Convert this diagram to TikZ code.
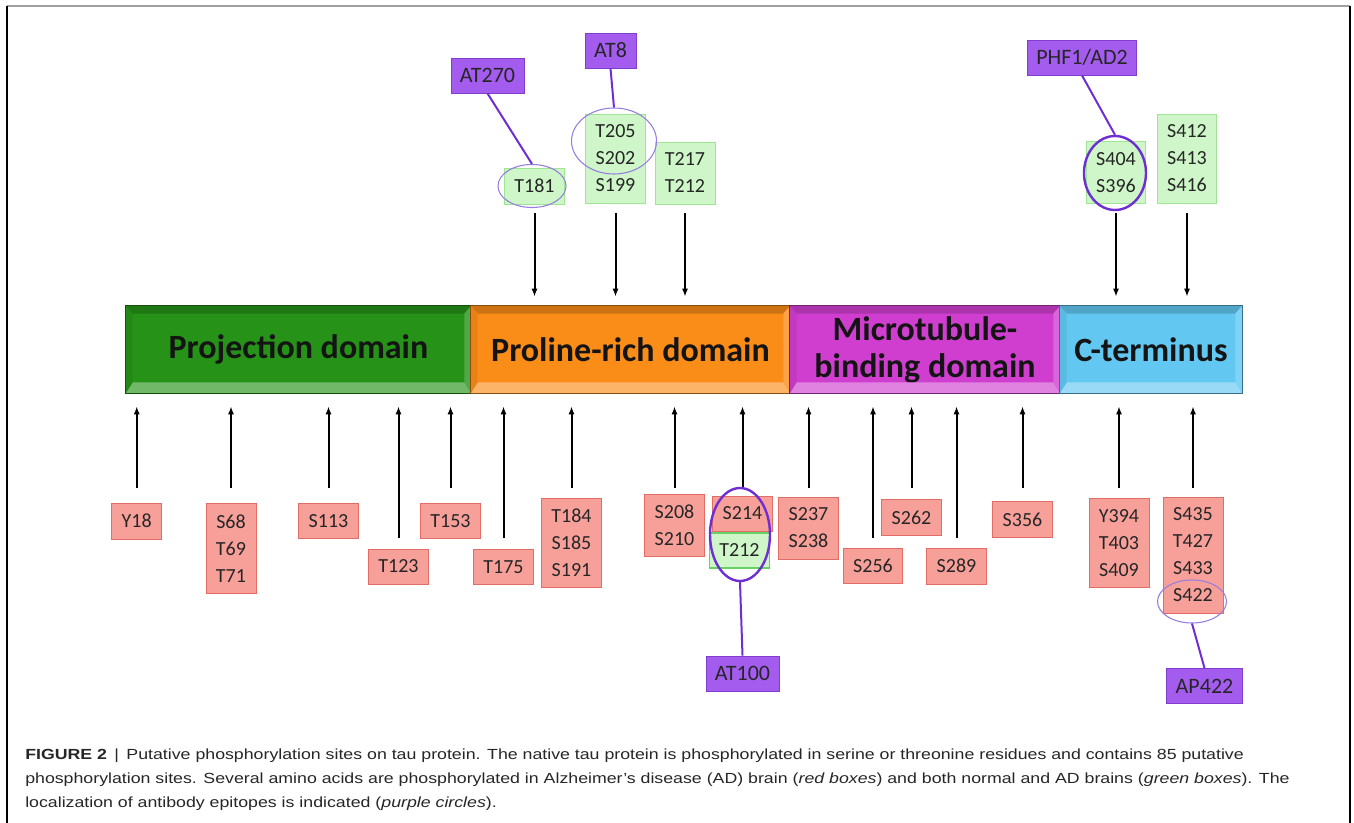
\documentclass[tikz,border=0pt]{standalone}
\usepackage{fontspec}
\setmainfont{Carlito}
\newfontfamily\capfont[FakeStretch=1.21]{Liberation Sans}
\usepackage{tikz}
\usetikzlibrary{arrows.meta,calc,shapes.geometric}
\definecolor{projgreen}{RGB}{38,146,24}
\definecolor{prolorange}{RGB}{250,140,24}
\definecolor{mtbdmagenta}{RGB}{208,62,208}
\definecolor{ctermcyan}{RGB}{98,200,242}
\definecolor{adredfill}{RGB}{247,160,154}
\definecolor{adredline}{RGB}{226,108,102}
\definecolor{allgreenfill}{RGB}{206,246,200}
\definecolor{allgreenline}{RGB}{158,230,148}
\definecolor{abodyfill}{RGB}{163,92,238}
\definecolor{abodyline}{RGB}{128,62,205}
\definecolor{epipurple}{RGB}{110,46,210}
\definecolor{epilight}{RGB}{150,125,222}

\begin{document}
\begin{tikzpicture}[
  x=0.75pt,y=-0.75pt,
  domainbox/.style={fill=#1,inner sep=0pt,minimum height=65.25pt,align=center,
    font=\fontsize{25.5}{27.75}\selectfont\bfseries,text=black!92},
  adsite/.style={rectangle,draw=adredline,fill=adredfill,line width=.6pt,inner xsep=7.5pt,inner ysep=8.25pt,
    align=center,font=\fontsize{15}{20.25}\selectfont,text=black!85},
  allsite/.style={adsite,draw=allgreenline,fill=allgreenfill},
  abody/.style={rectangle,draw=abodyline,fill=abodyfill,line width=.6pt,inner xsep=6.75pt,inner ysep=0pt,
    minimum height=26.25pt,text height=10.6pt,text depth=0pt,font=\fontsize{16.5}{18}\selectfont,text=black!85},
  epi/.style={ellipse,draw=epipurple,line width=1.8pt,inner sep=0pt},
  epithin/.style={ellipse,draw=epilight,line width=.8pt,inner sep=0pt},
  epiline/.style={draw=epipurple,line width=1.5pt},
  arr/.style={-{Latex[length=6pt,width=4.5pt]},line width=1.5pt,draw=black},
  captext/.style={font=\capfont\fontsize{11}{18}\selectfont,text=black!85,align=left,inner sep=0pt}
]
  \useasboundingbox (0,0) rectangle (1354,823);

  % outer frame
  \draw[gray!75,line width=1.5pt] (7,6) -- (1350,6);
  \draw[line width=.8pt] (7,6) -- (7,823);
  \draw[line width=.8pt] (1350,6) -- (1350,823);

  % domains
  \node[domainbox=projgreen,minimum width=258.75pt] (proj) at (298.5,349.5) {Projection domain};
  \node[domainbox=prolorange,minimum width=239.25pt] (prol) at (630.5,349.5) {Proline-rich domain};
  \node[domainbox=mtbdmagenta,minimum width=202.5pt] (mtbd) at (925,349.5) {Microtubule-\\binding domain};
  \node[domainbox=ctermcyan,minimum width=136.5pt] (cterm) at (1151,349.5) {C-terminus};

  \foreach \n/\c in {proj/projgreen,prol/prolorange,mtbd/mtbdmagenta,cterm/ctermcyan}{
    \fill[\c!82!black] (\n.north west) -- (\n.north east) -- ($(\n.north east)+(-7,8)$) -- ($(\n.north west)+(7,8)$) -- cycle;
    \fill[\c!65!white] (\n.south west) -- (\n.south east) -- ($(\n.south east)+(-7,-11)$) -- ($(\n.south west)+(7,-11)$) -- cycle;
    \fill[\c!93!black] (\n.north west) -- ($(\n.north west)+(7,8)$) -- ($(\n.south west)+(7,-11)$) -- (\n.south west) -- cycle;
    \fill[\c!80!white] (\n.north east) -- ($(\n.north east)+(-7,8)$) -- ($(\n.south east)+(-7,-11)$) -- (\n.south east) -- cycle;
    \draw[\c!55!black,line width=.8pt] (\n.north west) rectangle (\n.south east);
  }

  \coordinate (rowT) at (0,213);
  \coordinate (rowS) at (0,488);
  \coordinate (rowL) at (0,538);

  % sites found in normal and AD brain
  \foreach \n/\x/\y/\t in {t181/534.5/186/T181,t205/615.5/158.5/{T205\\S202\\S199},
      t217/685/173/{T217\\T212},s404/1116/172.5/{S404\\S396},s412/1187/158.5/{S412\\S413\\S416}}{
    \node[allsite] (\n) at (\x,\y) {\t};
    \draw[arr,shorten >=6.75pt] (\n.south |- rowT) -- (\n.south |- proj.north);
  }

  % sites found in AD brain
  \foreach \n/\x/\y/\r/\t in {y18/136.75/521/S/Y18,s68/231/548.5/S/{S68\\T69\\T71},
      s113/328.5/521/S/S113,t123/398.5/566.5/L/T123,t153/450.5/521/S/T153,
      t175/503.5/567/L/T175,t184/571.5/543/S/{T184\\S185\\S191},s208/674.5/525.5/S/{S208\\S210},
      s214/742.5/513.5/S/S214,s237/808.5/528/S/{S237\\S238},s256/873/566/L/S256,
      s262/911.5/517.5/S/S262,s289/956.5/566/L/S289,s356/1022.5/519.5/S/S356,
      y394/1119/543/S/{Y394\\T403\\S409},s435/1193/555/S/{S435\\T427\\S433\\S422}}{
    \node[adsite] (\n) at (\x,\y) {\t};
    \draw[arr,shorten >=9.75pt] (\n.north |- row\r) -- (\n.north |- proj.south);
  }
  \node[allsite,draw=green!70!black!60,line width=1.2pt] (t212) at (739.5,550.5) {T212};

  % antibody epitopes
  \node[epithin,minimum width=51pt,minimum height=32.25pt] (e181) at (532,186) {};
  \node[epithin,minimum width=63.75pt,minimum height=49.5pt] (e205) at (614,141) {};
  \node[epithin,minimum width=51.75pt,minimum height=32.25pt] (e422) at (1192,601.5) {};
  \node[epi,minimum width=46.5pt,minimum height=55.5pt] (e404) at (1115,173) {};
  \node[epi,minimum width=45pt,minimum height=69.75pt] (e214) at (740,534.5) {};

  \node[abody] (at270) at (487.5,75.5) {AT270};
  \node[abody] (at8) at (610.5,50.5) {AT8};
  \node[abody] (phf) at (1082,57.5) {PHF1/AD2};
  \node[abody] (at100) at (742.5,673.5) {AT100};
  \node[abody] (ap422) at (1204.5,686) {AP422};

  \draw[epiline] (at270.south) -- (e181.north);
  \draw[epiline] (at8.south) -- (e205.north);
  \draw[epiline] (phf.south) -- (e404.north);
  \draw[epiline] (e214.south) -- (at100.north);
  \draw[epiline] (e422.south) -- (ap422.north);

  % caption
  \node[captext,anchor=north west] (caption) at (25,749)
    {\textbf{FIGURE 2} \,|\, Putative phosphorylation sites on tau protein. The native tau protein is phosphorylated in serine or threonine residues and contains 85 putative\\
     phosphorylation sites. Several amino acids are phosphorylated in Alzheimer’s disease (AD) brain (\textit{red boxes}) and both normal and AD brains (\textit{green boxes}). The\\
     localization of antibody epitopes is indicated (\textit{purple circles}).};
\end{tikzpicture}
\end{document}
